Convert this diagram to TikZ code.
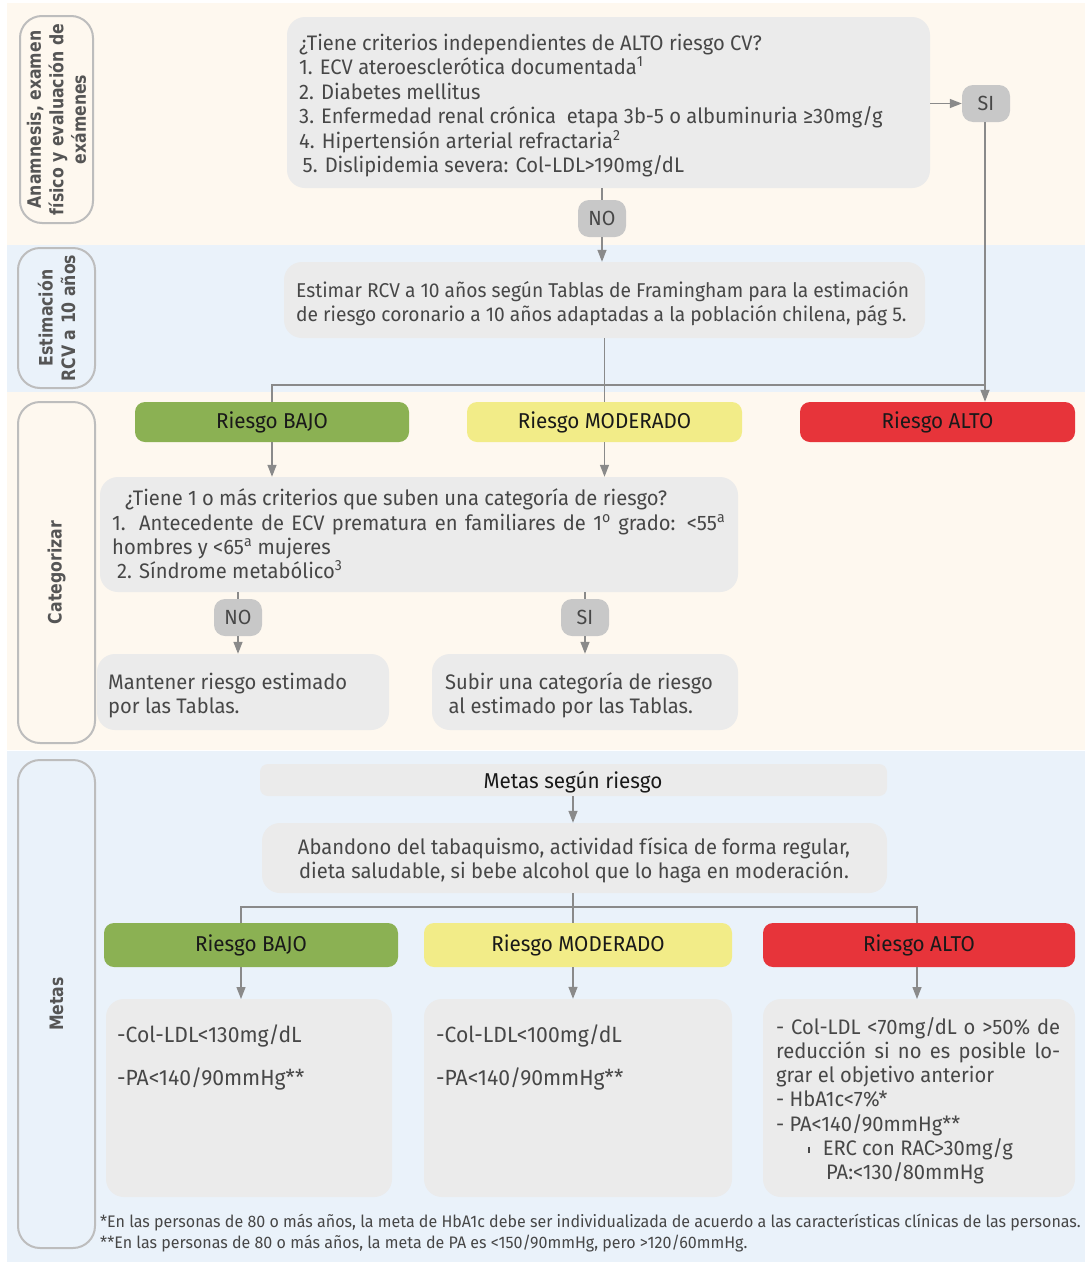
\documentclass[tikz,border=0pt]{standalone}
\usepackage{fontspec}
\setmainfont{Fira Sans}[FakeStretch=0.96]
\newfontfamily\lblfont{DejaVu Sans}[FakeStretch=0.85]
\usetikzlibrary{arrows.meta}
\definecolor{cream}{HTML}{FEF8EF}
\definecolor{bluebg}{HTML}{EAF2FA}
\definecolor{boxgray}{HTML}{EBEBEB}
\definecolor{yngray}{HTML}{C8C8C8}
\definecolor{lngray}{HTML}{8A8A8A}
\definecolor{lblline}{HTML}{BDBDBD}
\definecolor{txtgray}{HTML}{474747}
\definecolor{lbltxt}{HTML}{555555}
\definecolor{rgreen}{HTML}{8BB153}
\definecolor{ryellow}{HTML}{F2EC88}
\definecolor{rred}{HTML}{E7343A}
\newcommand\fsz[2]{\fontsize{#1}{#2}\selectfont}
\newcommand\supo{\textsuperscript{o}}
\newcommand\supa{\textsuperscript{a}}
\tikzset{
 bx/.style={fill=boxgray, rounded corners=18pt, inner sep=0pt},
 lbl/.style={draw=lblline, line width=2pt, rounded corners=22pt, inner sep=0pt},
 lbltext/.style={rotate=90, align=center, inner sep=0pt, text=lbltxt, font=\lblfont\bfseries\fsz{18.5}{22.5}},
 yn/.style={fill=yngray, rounded corners=11pt, inner sep=0pt, minimum width=48pt, minimum height=37pt, text=txtgray, font=\fsz{20.5}{24}},
 rk/.style={rounded corners=10pt, inner sep=0pt, font=\fsz{21.5}{24}, text=black!90},
 tx/.style={inner sep=0pt, anchor=base west, align=left, text=txtgray, font=\fsz{21}{24.5}},
 ln/.style={draw=lngray, line width=1.3pt},
 ar/.style={ln, -{Triangle[length=12pt,width=9pt]}},
}
\begin{document}
\begin{tikzpicture}[x=1pt,y=-1pt]
\useasboundingbox (0,0) rectangle (1085,1264);
\fill[white] (0,0) rectangle (1085,1264);
% bands
\fill[cream] (7,3) rectangle (1085,245);
\fill[bluebg] (7,245) rectangle (1085,392);
\fill[cream] (7,392) rectangle (1085,750);
\fill[bluebg] (7,751) rectangle (1085,1262);
% left labels
\node[lbl, minimum width=73pt, minimum height=207pt] (L1) at (56.5,119.5) {};
\node[lbltext] (L1t) at (L1) {Anamnesis, examen\\físico y evaluación de\\exámenes};
\node[lbl, minimum width=77pt, minimum height=140pt] (L2) at (56.5,318) {};
\node[lbltext] (L2t) at (L2) {Estimación\\RCV a 10 años};
\node[lbl, minimum width=77pt, minimum height=341pt] (L3) at (56.5,572.5) {};
\node[lbltext] (L3t) at (L3) {Categorizar};
\node[lbl, minimum width=77pt, minimum height=488pt] (L4) at (56.5,1004) {};
\node[lbltext] (L4t) at (L4) {Metas};
% top question
\node[bx, minimum width=643pt, minimum height=171pt] (q) at (608.5,102.5) {};
\node[tx] (qt) at (299,172.5) {¿Tiene criterios independientes de ALTO riesgo CV?\\
1. ECV ateroesclerótica documentada\textsuperscript{1}\\
2. Diabetes mellitus\\
3. Enfermedad renal crónica\ \ etapa 3b-5 o albuminuria ≥30mg/g\\
4. Hipertensión arterial refractaria\textsuperscript{2}\\
\,5. Dislipidemia severa: Col-LDL>190mg/dL};
\node[yn] (si1) at (986,103.5) {SI};
\node[yn] (no1) at (602,218.5) {NO};
% estimar
\node[bx, minimum width=641pt, minimum height=76pt] (est) at (604.5,300) {};
\node[tx, font=\fsz{20}{24}] (estt) at (296,321) {Estimar RCV a 10 años según Tablas de Framingham para la estimación\\
de riesgo coronario a 10 años adaptadas a la población chilena, pág 5.};
% risk row 1
\node[rk, fill=rgreen, minimum width=274pt, minimum height=40pt] (bajo1) at (272,422) {Riesgo BAJO};
\node[rk, fill=ryellow, minimum width=275pt, minimum height=40pt] (mod1) at (604.5,422) {Riesgo MODERADO};
\node[rk, fill=rred, minimum width=275pt, minimum height=40pt] (alto1) at (937.5,422) {Riesgo ALTO};
% criteria
\node[bx, minimum width=638pt, minimum height=115pt] (crit) at (419,534.5) {};
\node[tx] (c1) at (125,505) {¿Tiene 1 o más criterios que suben una categoría de riesgo?};
\node[tx] (c2) at (112,530) {\makebox[613pt][s]{1. Antecedente de ECV prematura en familiares de 1\supo{} grado: <55\supa}};
\node[tx] (c3) at (112,554) {hombres y <65\supa{} mujeres};
\node[tx] (c4) at (117,578) {2. Síndrome metabólico\textsuperscript{3}};
\node[yn] (no2) at (238,617.5) {NO};
\node[yn] (si2) at (585,617.5) {SI};
\node[bx, minimum width=292pt, minimum height=76pt] (mant) at (243,692) {};
\node[tx, font=\fsz{21}{24}] (mantt) at (108,713) {Mantener riesgo estimado\\por las Tablas.};
\node[bx, minimum width=306pt, minimum height=76pt] (sub) at (585,692) {};
\node[tx, font=\fsz{21}{24}] (subt) at (445,713) {Subir una categoría de riesgo\\\,al estimado por las Tablas.};
% metas
\node[bx, rounded corners=8pt, minimum width=627pt, minimum height=32pt] (met) at (573.5,780) {};
\node[tx, anchor=base, text=black!90, font=\fsz{21.5}{24}] (mett) at (573,788) {Metas según riesgo};
\node[bx, minimum width=625pt, minimum height=70pt] (ab) at (574.5,858) {};
\node[tx, anchor=center, align=center, font=\fsz{21}{24}] (abt) at (574,860) {Abandono del tabaquismo, actividad física de forma regular,\\dieta saludable, si bebe alcohol que lo haga en moderación.};
% risk row 2
\node[rk, fill=rgreen, minimum width=294pt, minimum height=44pt] (bajo2) at (251,945) {Riesgo BAJO};
\node[rk, fill=ryellow, minimum width=308pt, minimum height=44pt] (mod2) at (578,945) {Riesgo MODERADO};
\node[rk, fill=rred, minimum width=312pt, minimum height=44pt] (alto2) at (919,945) {Riesgo ALTO};
% goal boxes
\node[bx, minimum width=286pt, minimum height=198pt] (g1) at (249,1098) {};
\node[tx, font=\fsz{22}{24}] (g1a) at (117,1042) {-Col-LDL<130mg/dL};
\node[tx, font=\fsz{22}{24}] (g1b) at (117,1085) {-PA<140/90mmHg**};
\node[bx, minimum width=308pt, minimum height=198pt] (g2) at (578,1098) {};
\node[tx, font=\fsz{22}{24}] (g2a) at (436,1042) {-Col-LDL<100mg/dL};
\node[tx, font=\fsz{22}{24}] (g2b) at (436,1085) {-PA<140/90mmHg**};
\node[bx, minimum width=312pt, minimum height=198pt] (g3) at (919,1098) {};
\node[tx] (g3a) at (776,1034) {\makebox[284pt][s]{- Col-LDL <70mg/dL o >50\% de}};
\node[tx] (g3b) at (776,1058) {\makebox[284pt][s]{reducción si no es posible lo-}};
\node[tx] (g3c) at (776,1082) {grar el objetivo anterior};
\node[tx] (g3d) at (776,1106) {- HbA1c<7\%*};
\node[tx] (g3e) at (776,1131) {- PA<140/90mmHg**};
\node[tx] (g3f) at (808,1155) {\rule[2pt]{1.6pt}{6pt}\hspace{13pt}ERC con RAC>30mg/g};
\node[tx] (g3g) at (826,1179) {PA:<130/80mmHg};
% footnotes
\node[tx, font=\fsz{16.7}{20}] (fn1) at (100,1227) {*En las personas de 80 o más años, la meta de HbA1c debe ser individualizada de acuerdo a las características clínicas de las personas.};
\node[tx, font=\fsz{16.7}{20}] (fn2) at (100,1248) {**En las personas de 80 o más años, la meta de PA es <150/90mmHg, pero >120/60mmHg.};
% connectors
\coordinate (j1) at (985,385);
\coordinate (j2) at (573,907);
\draw[ln] (q.south -| no1) -- (no1.north);
\draw[ar] (no1.south) -- (no1.south |- est.north);
\draw[ar] (q.east |- si1) -- (si1.west);
\draw[ar] (si1.south -| j1) -- (j1 |- alto1.north);
\draw[ln] (est.south) -- (mod1.north);
\draw[ln] (bajo1.north) |- (j1);
\draw[ar] (bajo1.south) -- (bajo1.south |- crit.north);
\draw[ar] (mod1.south) -- (mod1.south |- crit.north);
\draw[ln] (crit.south -| no2) -- (no2.north);
\draw[ar] (no2.south) -- (no2.south |- mant.north);
\draw[ln] (crit.south -| si2) -- (si2.north);
\draw[ar] (si2.south) -- (si2.south |- sub.north);
\draw[ar] (met.south -| j2) -- (j2 |- ab.north);
\draw[ln] (ab.south -| j2) -- (j2 |- mod2.north);
\draw[ln] (241,923) |- (j2) -| (917,923);
\draw[ar] (bajo2.south -| 241,0) -- (241,999);
\draw[ar] (mod2.south -| j2) -- (j2 |- g2.north);
\draw[ar] (alto2.south -| 917,0) -- (917,999);
\end{tikzpicture}
\end{document}
